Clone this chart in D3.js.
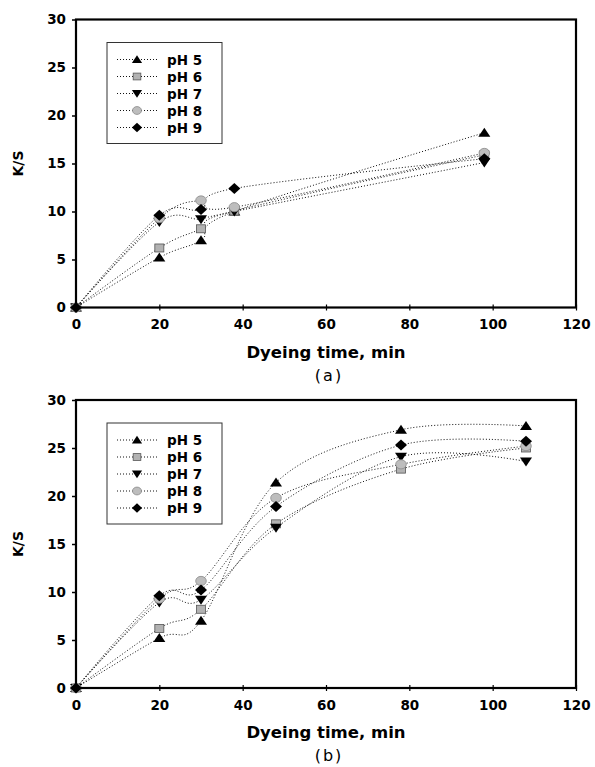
<!DOCTYPE html>
<html>
<head>
<meta charset="utf-8">
<script src="https://cdn.jsdelivr.net/npm/d3@7"></script>
<style>
  html, body { margin: 0; padding: 0; background: #fff; }
  svg { display: block; }
</style>
</head>
<body>
<svg id="chart" width="595" height="767"></svg>
<script>
// Dyeing time (min) for each panel
const timeA = [0, 20, 30, 38, 98];
const timeB = [0, 20, 30, 48, 78, 108];

// Series labels
const seriesNames = ["pH 5", "pH 6", "pH 7", "pH 8", "pH 9"];

// K/S values, panel (a)
const ksA_pH5 = [0, 5.2, 7.0, 10.0, 18.2];
const ksA_pH6 = [0, 6.2, 8.2, 10.05, 15.9];
const ksA_pH7 = [0, 8.9, 9.2, 10.0, 15.1];
const ksA_pH8 = [0, 9.3, 11.15, 10.45, 16.1];
const ksA_pH9 = [0, 9.6, 10.2, 12.4, 15.5];

// K/S values, panel (b)
const ksB_pH5 = [0, 5.2, 7.0, 21.4, 26.9, 27.3];
const ksB_pH6 = [0, 6.2, 8.2, 17.1, 22.8, 25.0];
const ksB_pH7 = [0, 8.9, 9.2, 16.7, 24.1, 23.6];
const ksB_pH8 = [0, 9.3, 11.15, 19.8, 23.3, 25.2];
const ksB_pH9 = [0, 9.6, 10.2, 18.9, 25.3, 25.7];

// Axis ticks
const xTicks = [0, 20, 40, 60, 80, 100, 120];
const yTicks = [0, 5, 10, 15, 20, 25, 30];

const panelA = [ksA_pH5, ksA_pH6, ksA_pH7, ksA_pH8, ksA_pH9];
const panelB = [ksB_pH5, ksB_pH6, ksB_pH7, ksB_pH8, ksB_pH9];

const svg = d3.select("#chart");
const boldFont = "'DejaVu Sans', sans-serif";

// Marker shapes: filled triangle, grey square, inverted triangle, grey ellipse, diamond
function drawMarker(g, idx, cx, cy, s) {
  s = s || 1;
  if (idx === 0) {
    g.append("path")
      .attr("d", `M${cx},${cy - 5 * s}L${cx + 6 * s},${cy + 4 * s}L${cx - 6 * s},${cy + 4 * s}Z`)
      .attr("fill", "#000");
  } else if (idx === 1) {
    g.append("rect")
      .attr("x", cx - 4.5 * s).attr("y", cy - 4 * s)
      .attr("width", 9 * s).attr("height", 8 * s)
      .attr("fill", "#b2b2b2").attr("stroke", "#555").attr("stroke-width", 0.8);
  } else if (idx === 2) {
    g.append("path")
      .attr("d", `M${cx},${cy + 5 * s}L${cx + 6 * s},${cy - 4 * s}L${cx - 6 * s},${cy - 4 * s}Z`)
      .attr("fill", "#000");
  } else if (idx === 3) {
    g.append("ellipse")
      .attr("cx", cx).attr("cy", cy)
      .attr("rx", 5.3 * s).attr("ry", 4.6 * s)
      .attr("fill", "#bdbdbd").attr("stroke", "#8a8a8a").attr("stroke-width", 0.8);
  } else {
    g.append("path")
      .attr("d", `M${cx},${cy - 5.5 * s}L${cx + 6 * s},${cy}L${cx},${cy + 5.5 * s}L${cx - 6 * s},${cy}Z`)
      .attr("fill", "#000");
  }
}

function drawPanel(opts) {
  const { top, bottom, times, data, caption } = opts;
  const left = 76, right = 576;

  const x = d3.scaleLinear().domain([0, 120]).range([left, right]);
  const y = d3.scaleLinear().domain([0, 30]).range([bottom, top]);

  const g = svg.append("g");

  // Series: dotted smoothed lines then markers
  const line = d3.line()
    .x(d => x(d[0]))
    .y(d => y(d[1]))
    .curve(d3.curveCardinal.tension(0));

  data.forEach((vals, i) => {
    const pts = times.map((t, j) => [t, vals[j]]);
    g.append("path")
      .datum(pts)
      .attr("d", line)
      .attr("fill", "none")
      .attr("stroke", "#111")
      .attr("stroke-width", 1)
      .attr("stroke-dasharray", "1 2");
  });
  data.forEach((vals, i) => {
    const mg = g.append("g");
    times.forEach((t, j) => drawMarker(mg, i, x(t), y(vals[j])));
  });

  // Y axis
  const yAxis = g.append("g")
    .attr("transform", `translate(${left},0)`)
    .call(d3.axisLeft(y).tickValues(yTicks).tickSize(4).tickPadding(6));
  yAxis.select(".domain").remove();
  yAxis.selectAll(".tick line").attr("stroke", "#000").attr("stroke-width", 1.5);
  yAxis.selectAll("text")
    .attr("font-family", boldFont).attr("font-weight", "bold")
    .attr("font-size", 13.5).attr("fill", "#000");

  // X axis
  const xAxis = g.append("g")
    .attr("transform", `translate(0,${bottom})`)
    .call(d3.axisBottom(x).tickValues(xTicks).tickSize(3).tickPadding(9));
  xAxis.select(".domain").remove();
  xAxis.selectAll(".tick line").attr("y1", -3).attr("y2", 3)
    .attr("stroke", "#000").attr("stroke-width", 1.2);
  xAxis.selectAll("text")
    .attr("font-family", boldFont).attr("font-weight", "bold")
    .attr("font-size", 13.5).attr("fill", "#000");

  // Plot frame
  g.append("rect")
    .attr("x", left).attr("y", top)
    .attr("width", right - left).attr("height", bottom - top)
    .attr("fill", "none").attr("stroke", "#000").attr("stroke-width", 2.2);

  // Axis titles
  g.append("text")
    .attr("x", (left + right) / 2).attr("y", bottom + 50)
    .attr("text-anchor", "middle")
    .attr("font-family", boldFont).attr("font-weight", "bold")
    .attr("font-size", 16.5).attr("fill", "#000")
    .text("Dyeing time, min");

  g.append("text")
    .attr("transform", `translate(23,${(top + bottom) / 2}) rotate(-90)`)
    .attr("text-anchor", "middle")
    .attr("font-family", boldFont).attr("font-weight", "bold")
    .attr("font-size", 14).attr("fill", "#000")
    .text("K/S");

  g.append("text")
    .attr("x", 329).attr("y", bottom + 73)
    .attr("text-anchor", "middle")
    .attr("font-family", "'DejaVu Sans', sans-serif")
    .attr("font-size", 16).attr("letter-spacing", 2).attr("fill", "#000")
    .text(caption);

  // Legend
  const lg = g.append("g");
  const lx = 107, ly = top + 23;
  lg.append("rect")
    .attr("x", lx).attr("y", ly)
    .attr("width", 115).attr("height", 101)
    .attr("fill", "#fff").attr("stroke", "#333").attr("stroke-width", 1);
  seriesNames.forEach((name, i) => {
    const ry = ly + 17 + i * 17;
    lg.append("line")
      .attr("x1", lx + 10).attr("x2", lx + 50)
      .attr("y1", ry).attr("y2", ry)
      .attr("stroke", "#111").attr("stroke-width", 1)
      .attr("stroke-dasharray", "1 2");
    drawMarker(lg, i, lx + 30, ry, 0.85);
    lg.append("text")
      .attr("x", lx + 60).attr("y", ry + 5)
      .attr("font-family", boldFont).attr("font-weight", "bold")
      .attr("font-size", 13.5).attr("fill", "#000")
      .text(name);
  });
}

drawPanel({ top: 19.5, bottom: 307.5, times: timeA, data: panelA, caption: "(a)" });
drawPanel({ top: 400, bottom: 688, times: timeB, data: panelB, caption: "(b)" });
</script>
</body>
</html>
